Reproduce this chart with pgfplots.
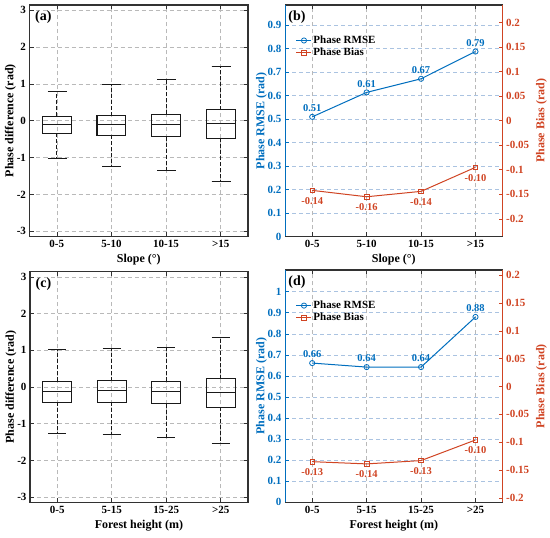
\documentclass[border=0pt]{standalone}
\usepackage{pgfplots}
\pgfplotsset{compat=1.18}
\usepgfplotslibrary{statistics}
\usepackage{fontspec}
\setmainfont{Liberation Serif}
\definecolor{mblue}{RGB}{0,110,190}
\definecolor{mred}{RGB}{208,68,35}
\definecolor{axgray}{RGB}{50,50,50}
\definecolor{gridgray}{RGB}{185,185,185}
\definecolor{gridblue}{RGB}{170,195,225}
\tikzset{lab/.style={font=\bfseries\fontsize{14}{16}\selectfont, anchor=north west, inner sep=0pt}}
\pgfplotsset{
  base/.style={
    scale only axis, anchor=south west,
    xmin=0.5, xmax=4.5, xtick={1,2,3,4},
    /pgf/number format/assume math mode=true,
    tick label style={font=\bfseries\fontsize{11}{13}\selectfont},
    label style={font=\bfseries\fontsize{12}{14}\selectfont},
    ylabel shift=-6pt,
    major tick length=4pt,
    tick style={axgray, line width=0.6pt},
    axis line style={axgray, line width=1.1pt},
    grid style={gridgray, dash pattern=on 4pt off 3pt, line width=0.6pt},
    xmajorgrids, ymajorgrids,
    clip=false,
  },
  bxp/.style={black!90, line width=1.1pt, solid,
    /pgfplots/boxplot/draw direction=y,
    /pgfplots/boxplot/box extend=0.53,
    /pgfplots/boxplot/whisker extend=0.33,
    /pgfplots/boxplot/every whisker/.style={dash pattern=on 4pt off 2pt},
  },
  cap/.style={black!90, line width=1.1pt, solid, no marks},
  rmse/.style={mblue, line width=1pt, mark=o, mark size=2.6pt, mark options={solid, fill=white, line width=0.8pt}},
  bias/.style={mred, line width=1pt, mark=square, mark size=2.3pt, mark options={solid, fill=white, line width=0.8pt}},
  /pgfplots/legend image code/.code={\draw[mark repeat=2,mark phase=2,#1] plot coordinates {(0pt,0pt) (7.5pt,0pt) (15pt,0pt)};},
}
\begin{document}
\begin{tikzpicture}
\useasboundingbox (0pt,0pt) rectangle (550pt,538pt);

% ---------------- (a) ----------------
\begin{axis}[base, at={(29.5pt,301.5pt)}, width=218.5pt, height=231.5pt,
  ymin=-3.14, ymax=3.14, ytick={-3,-2,-1,0,1,2,3}, yticklabels={-3,-2,-1,0,1,2,3},
  xticklabels={0-5,5-10,10-15,>15},
  xlabel={Slope (°)}, ylabel={Phase difference (rad)}]
\addplot[bxp, boxplot prepared={draw position=1, lower whisker=-1.02, lower quartile=-0.34, median=-0.11, upper quartile=0.12, upper whisker=0.80}] coordinates {};
\addplot[bxp, boxplot prepared={draw position=2, lower whisker=-1.24, lower quartile=-0.40, median=-0.09, upper quartile=0.14, upper whisker=0.99}] coordinates {};
\addplot[bxp, boxplot prepared={draw position=3, lower whisker=-1.36, lower quartile=-0.43, median=-0.09, upper quartile=0.17, upper whisker=1.11}] coordinates {};
\addplot[bxp, boxplot prepared={draw position=4, lower whisker=-1.65, lower quartile=-0.47, median=-0.08, upper quartile=0.30, upper whisker=1.48}] coordinates {};
\addplot[cap] coordinates {(0.835,0.80) (1.165,0.80)};
\addplot[cap] coordinates {(0.835,-1.02) (1.165,-1.02)};
\addplot[cap] coordinates {(1.835,0.99) (2.165,0.99)};
\addplot[cap] coordinates {(1.835,-1.24) (2.165,-1.24)};
\addplot[cap] coordinates {(2.835,1.11) (3.165,1.11)};
\addplot[cap] coordinates {(2.835,-1.36) (3.165,-1.36)};
\addplot[cap] coordinates {(3.835,1.48) (4.165,1.48)};
\addplot[cap] coordinates {(3.835,-1.65) (4.165,-1.65)};
\node[lab] at (rel axis cs:0.025,0.975) {(a)};
\end{axis}

% ---------------- (b) ----------------
\begin{axis}[base, at={(285pt,301.5pt)}, width=217.7pt, height=231.5pt,
  axis x line*=box, axis y line*=left,
  ymin=0, ymax=0.985,
  ytick={0,0.1,0.2,0.3,0.4,0.5,0.6,0.7,0.8,0.9}, yticklabels={0,0.1,0.2,0.3,0.4,0.5,0.6,0.7,0.8,0.9},
  y axis line style={mblue, line width=1pt}, ytick style={mblue},
  yticklabel style={text=mblue}, ylabel style={text=mblue},
  y grid style={gridblue, dash pattern=on 4pt off 3pt, line width=0.6pt},
  xticklabels={0-5,5-10,10-15,>15},
  xlabel={Slope (°)}, ylabel={Phase RMSE (rad)},
  legend style={at={(0.045,0.878)}, anchor=north west, draw=none, fill=none,
    font=\bfseries\fontsize{11}{12.5}\selectfont, inner sep=1pt, row sep=0pt,
    nodes={inner sep=1.5pt}},
  legend cell align=left]
\addplot[rmse, nodes near coords, point meta=explicit symbolic,
  every node near coord/.append style={font=\bfseries\fontsize{10.5}{12}\selectfont, text=mblue, anchor=south, yshift=1.5pt}]
  coordinates {(1,0.509)[0.51] (2,0.613)[0.61] (3,0.671)[0.67] (4,0.787)[0.79]};
\addlegendentry{Phase RMSE}
\addlegendimage{bias}
\addlegendentry{Phase Bias}
\node[lab] at (rel axis cs:0.015,0.975) {(b)};
\end{axis}
\begin{axis}[base, at={(285pt,301.5pt)}, width=217.7pt, height=231.5pt,
  axis y line*=right, axis x line=none, xmajorgrids=false, ymajorgrids=false,
  ymin=-0.236, ymax=0.236, ylabel shift=0pt,
  ytick={-0.2,-0.15,-0.1,-0.05,0,0.05,0.1,0.15,0.2},
  yticklabels={-0.2,-0.15,-0.1,-0.05,0,0.05,0.1,0.15,0.2},
  y axis line style={mred, line width=1pt}, ytick style={mred},
  yticklabel style={text=mred}, ylabel style={text=mred},
  ylabel={Phase Bias (rad)}]
\addplot[bias, nodes near coords, point meta=explicit symbolic,
  every node near coord/.append style={font=\bfseries\fontsize{10.5}{12}\selectfont, text=mred, anchor=north, yshift=-3pt}]
  coordinates {(1,-0.142)[-0.14] (2,-0.155)[-0.16] (3,-0.144)[-0.14] (4,-0.095)[-0.10]};
\end{axis}

% ---------------- (c) ----------------
\begin{axis}[base, at={(30pt,35.7pt)}, width=218pt, height=230.5pt,
  ymin=-3.14, ymax=3.14, ytick={-3,-2,-1,0,1,2,3}, yticklabels={-3,-2,-1,0,1,2,3},
  xticklabels={0-5,5-15,15-25,>25},
  xlabel={Forest height (m)}, ylabel={Phase difference (rad)}]
\addplot[bxp, boxplot prepared={draw position=1, lower whisker=-1.27, lower quartile=-0.41, median=-0.11, upper quartile=0.155, upper whisker=1.03}] coordinates {};
\addplot[bxp, boxplot prepared={draw position=2, lower whisker=-1.30, lower quartile=-0.42, median=-0.09, upper quartile=0.17, upper whisker=1.05}] coordinates {};
\addplot[bxp, boxplot prepared={draw position=3, lower whisker=-1.38, lower quartile=-0.45, median=-0.12, upper quartile=0.155, upper whisker=1.08}] coordinates {};
\addplot[bxp, boxplot prepared={draw position=4, lower whisker=-1.53, lower quartile=-0.55, median=-0.16, upper quartile=0.23, upper whisker=1.35}] coordinates {};
\addplot[cap] coordinates {(0.835,1.03) (1.165,1.03)};
\addplot[cap] coordinates {(0.835,-1.27) (1.165,-1.27)};
\addplot[cap] coordinates {(1.835,1.05) (2.165,1.05)};
\addplot[cap] coordinates {(1.835,-1.30) (2.165,-1.30)};
\addplot[cap] coordinates {(2.835,1.08) (3.165,1.08)};
\addplot[cap] coordinates {(2.835,-1.38) (3.165,-1.38)};
\addplot[cap] coordinates {(3.835,1.35) (4.165,1.35)};
\addplot[cap] coordinates {(3.835,-1.53) (4.165,-1.53)};
\node[lab] at (rel axis cs:0.025,0.975) {(c)};
\end{axis}

% ---------------- (d) ----------------
\begin{axis}[base, at={(285pt,35.7pt)}, width=217.7pt, height=232.3pt,
  axis x line*=box, axis y line*=left,
  ymin=0, ymax=1.103,
  ytick={0,0.1,0.2,0.3,0.4,0.5,0.6,0.7,0.8,0.9,1}, yticklabels={0,0.1,0.2,0.3,0.4,0.5,0.6,0.7,0.8,0.9,1},
  y axis line style={mblue, line width=1pt}, ytick style={mblue},
  yticklabel style={text=mblue}, ylabel style={text=mblue},
  y grid style={gridblue, dash pattern=on 4pt off 3pt, line width=0.6pt},
  xticklabels={0-5,5-15,15-25,>25},
  xlabel={Forest height (m)}, ylabel={Phase RMSE (rad)},
  legend style={at={(0.045,0.878)}, anchor=north west, draw=none, fill=none,
    font=\bfseries\fontsize{11}{12.5}\selectfont, inner sep=1pt, row sep=0pt,
    nodes={inner sep=1.5pt}},
  legend cell align=left]
\addplot[rmse, nodes near coords, point meta=explicit symbolic,
  every node near coord/.append style={font=\bfseries\fontsize{10.5}{12}\selectfont, text=mblue, anchor=south, yshift=1.5pt}]
  coordinates {(1,0.661)[0.66] (2,0.642)[0.64] (3,0.642)[0.64] (4,0.880)[0.88]};
\addlegendentry{Phase RMSE}
\addlegendimage{bias}
\addlegendentry{Phase Bias}
\node[lab] at (rel axis cs:0.015,0.975) {(d)};
\end{axis}
\begin{axis}[base, at={(285pt,35.7pt)}, width=217.7pt, height=232.3pt,
  axis y line*=right, axis x line=none, xmajorgrids=false, ymajorgrids=false,
  ymin=-0.208, ymax=0.2095, ylabel shift=0pt,
  ytick={-0.2,-0.15,-0.1,-0.05,0,0.05,0.1,0.15,0.2},
  yticklabels={-0.2,-0.15,-0.1,-0.05,0,0.05,0.1,0.15,0.2},
  y axis line style={mred, line width=1pt}, ytick style={mred},
  yticklabel style={text=mred}, ylabel style={text=mred},
  ylabel={Phase Bias (rad)}]
\addplot[bias, nodes near coords, point meta=explicit symbolic,
  every node near coord/.append style={font=\bfseries\fontsize{10.5}{12}\selectfont, text=mred, anchor=north, yshift=-3pt}]
  coordinates {(1,-0.135)[-0.13] (2,-0.139)[-0.14] (3,-0.133)[-0.13] (4,-0.096)[-0.10]};
\end{axis}
\end{tikzpicture}
\end{document}
